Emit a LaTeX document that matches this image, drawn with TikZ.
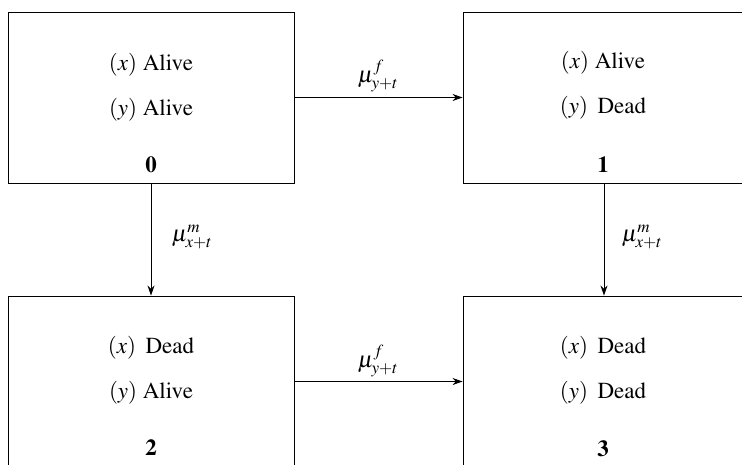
\documentclass[tikz,border=0pt]{standalone}
\usepackage[T1]{fontenc}
\usepackage{mathptmx}
\usetikzlibrary{arrows.meta}
\begin{document}
\begin{tikzpicture}[x=1pt,y=-1pt,
  box/.style={draw, line width=0.9pt, minimum width=286pt, minimum height=171pt, inner sep=0pt},
  lbl/.style={font=\fontsize{23}{27}\selectfont, inner sep=0pt},
  num/.style={font=\fontsize{23}{27}\selectfont\bfseries, inner sep=0pt},
  rate/.style={font=\fontsize{23}{27}\selectfont, inner sep=0pt},
  arr/.style={line width=0.9pt, -{Stealth[length=10pt,width=7pt]}}]
\useasboundingbox (0,0) rectangle (742,464);
\clip (0,0) rectangle (742,464);
\node[box] (s0) at (151,97.5) {};
\node[box] (s1) at (606,97.5) {};
\node[box] (s2) at (151,381.5) {};
\node[box] (s3) at (606,381.5) {};
% texts
\node[lbl] (s0x) at (151,65) {$(x)$ Alive};
\node[lbl] (s0y) at (151,110) {$(y)$ Alive};
\node[num] (s0n) at (151,165) {0};
\node[lbl] (s1x) at (603,63) {$(x)$ Alive};
\node[lbl] (s1y) at (603,108) {$(y)$\, Dead};
\node[num] (s1n) at (603,165) {1};
\node[lbl] (s2x) at (151,348) {$(x)$\, Dead};
\node[lbl] (s2y) at (151,393) {$(y)$ Alive};
\node[num] (s2n) at (151,448) {2};
\node[lbl] (s3x) at (603,348) {$(x)$\, Dead};
\node[lbl] (s3y) at (603,393) {$(y)$\, Dead};
\node[num] (s3n) at (603,449) {3};
% connectors
\draw[arr] (s0) -- (s1);
\draw[arr] (s2) -- (s3);
\draw[arr] (s0) -- (s2);
\draw[arr] (s1.south -| 604,0) -- (s3.north -| 604,0);
% rates
\node[rate] (r01) at (378,76) {$\mu^{f}_{y+t}$};
\node[rate] (r23) at (378,361) {$\mu^{f}_{y+t}$};
\node[rate] (r02) at (192,237) {$\mu^{m}_{x+t}$};
\node[rate] (r13) at (642,237) {$\mu^{m}_{x+t}$};
\end{tikzpicture}
\end{document}
